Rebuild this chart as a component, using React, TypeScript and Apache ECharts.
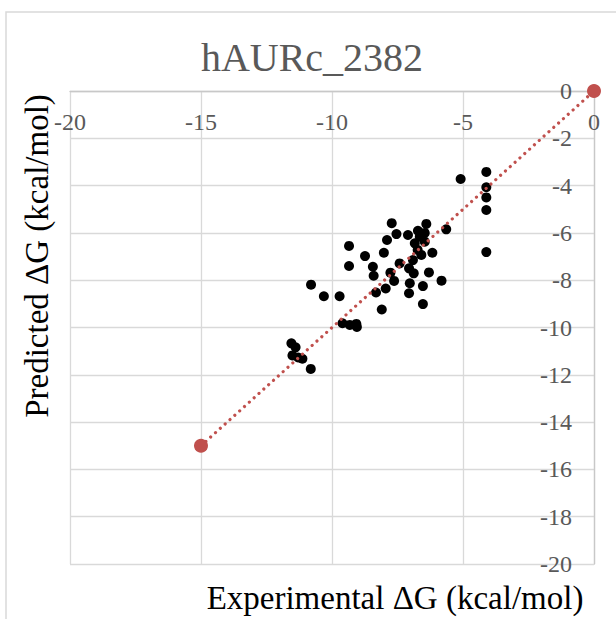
import React, { useEffect, useRef } from "react";
import * as echarts from "echarts";

const chartTitle = "hAURc_2382";
const xAxisTitle = "Experimental ΔG (kcal/mol)";
const yAxisTitle = "Predicted ΔG (kcal/mol)";

const experimental = [
  -7.72, -7.54, -7.9, -9.35, -8.74, -8.02, -9.35, -8.44, -8.41, -7.77,
  -7.63, -10.8, -10.31, -9.71, -8.32, -7.95, -8.1, -9.6, -9.32, -9.07,
  -9.05, -6.4, -6.72, -7.1, -5.64, -4.11, -6.65, -6.84, -6.46, -6.17,
  -6.59, -6.91, -7.06, -6.88, -7.42, -6.3, -5.82, -7.03, -6.53, -7.06,
  -6.53, -4.11, -5.09, -4.11, -4.11, -4.11, -11.55, -11.39, -11.51, -11.13,
  -11.29, -10.81, -6.46, -6.73,
];
const predicted = [
  -5.59, -6.05, -6.3, -6.55, -6.98, -6.84, -7.4, -7.43, -7.81, -7.68,
  -8.03, -8.19, -8.68, -8.68, -8.52, -8.35, -9.24, -9.82, -9.89, -9.85,
  -9.98, -5.62, -5.91, -6.09, -5.85, -5.03, -6.16, -6.44, -6.37, -6.84,
  -6.93, -7.15, -7.5, -7.71, -7.29, -7.67, -8.02, -8.13, -8.25, -8.55,
  -9.01, -6.81, -3.72, -3.42, -4.07, -4.5, -10.67, -10.84, -11.18, -11.32,
  -11.27, -11.75, -6.0, -6.72,
];
const identityX = [-15, 0];
const identityY = [-15, 0];

const FONT = "Liberation Serif";

export default function App() {
  const ref = useRef<HTMLDivElement>(null);
  useEffect(() => {
    if (!ref.current) return;
    const chart = echarts.init(ref.current, null, { renderer: "svg" });
    chart.setOption({
      animation: false,
      backgroundColor: "#ffffff",
      textStyle: { fontFamily: FONT },
      grid: { left: 70, right: 22, top: 91, bottom: 55, containLabel: false },
      xAxis: {
        type: "value",
        min: -20,
        max: 0,
        interval: 5,
        position: "top",
        axisLine: { show: true, onZero: false, lineStyle: { color: "#c8c8c8", width: 1.3 } },
        axisTick: { show: false },
        splitLine: { show: true, lineStyle: { color: "#d9d9d9", width: 1.3 } },
        axisLabel: {
          inside: true,
          margin: 19,
          fontSize: 24,
          color: "#595959",
          fontFamily: FONT,
          showMinLabel: true,
          showMaxLabel: true,
        },
      },
      yAxis: {
        type: "value",
        min: -20,
        max: 0,
        interval: 2,
        position: "right",
        axisLine: { show: true, onZero: false, lineStyle: { color: "#c8c8c8", width: 1.3 } },
        axisTick: { show: false },
        splitLine: { show: true, lineStyle: { color: "#d9d9d9", width: 1.3 } },
        axisLabel: {
          inside: true,
          margin: 22,
          fontSize: 24,
          color: "#595959",
          fontFamily: FONT,
          showMinLabel: true,
          showMaxLabel: true,
        },
      },
      series: [
        {
          type: "scatter",
          data: experimental.map((x, i) => [x, predicted[i]]),
          symbol: "circle",
          symbolSize: 10,
          itemStyle: { color: "#000000", opacity: 1 },
          z: 2,
        },
        {
          type: "line",
          data: identityX.map((x, i) => [x, identityY[i]]),
          symbol: "circle",
          symbolSize: 14,
          itemStyle: { color: "#c0504d", opacity: 1 },
          lineStyle: { color: "#c0504d", width: 3.2, type: [0.01, 6.5], cap: "round" },
          z: 3,
        },
      ],
      graphic: [
        {
          type: "rect",
          shape: { x: 6, y: 12, width: 640, height: 640 },
          style: { fill: "none", stroke: "#d9d9d9", lineWidth: 1.5 },
          silent: true,
        },
        {
          type: "text",
          x: 312,
          y: 57,
          style: {
            text: chartTitle,
            fontFamily: FONT,
            fontSize: 40,
            fill: "#595959",
            align: "center",
            verticalAlign: "middle",
          },
        },
        {
          type: "text",
          x: 395,
          y: 598,
          style: {
            text: xAxisTitle,
            fontFamily: FONT,
            fontSize: 33,
            fill: "#000000",
            align: "center",
            verticalAlign: "middle",
          },
        },
        {
          type: "text",
          x: 37,
          y: 256,
          rotation: Math.PI / 2,
          style: {
            text: yAxisTitle,
            fontFamily: FONT,
            fontSize: 33,
            fill: "#000000",
            align: "center",
            verticalAlign: "middle",
          },
        },
      ],
    });
    return () => chart.dispose();
  }, []);
  return (
    <div
      ref={ref}
      style={{ position: "absolute", left: 0, top: 0, width: 616, height: 619 }}
    />
  );
}
